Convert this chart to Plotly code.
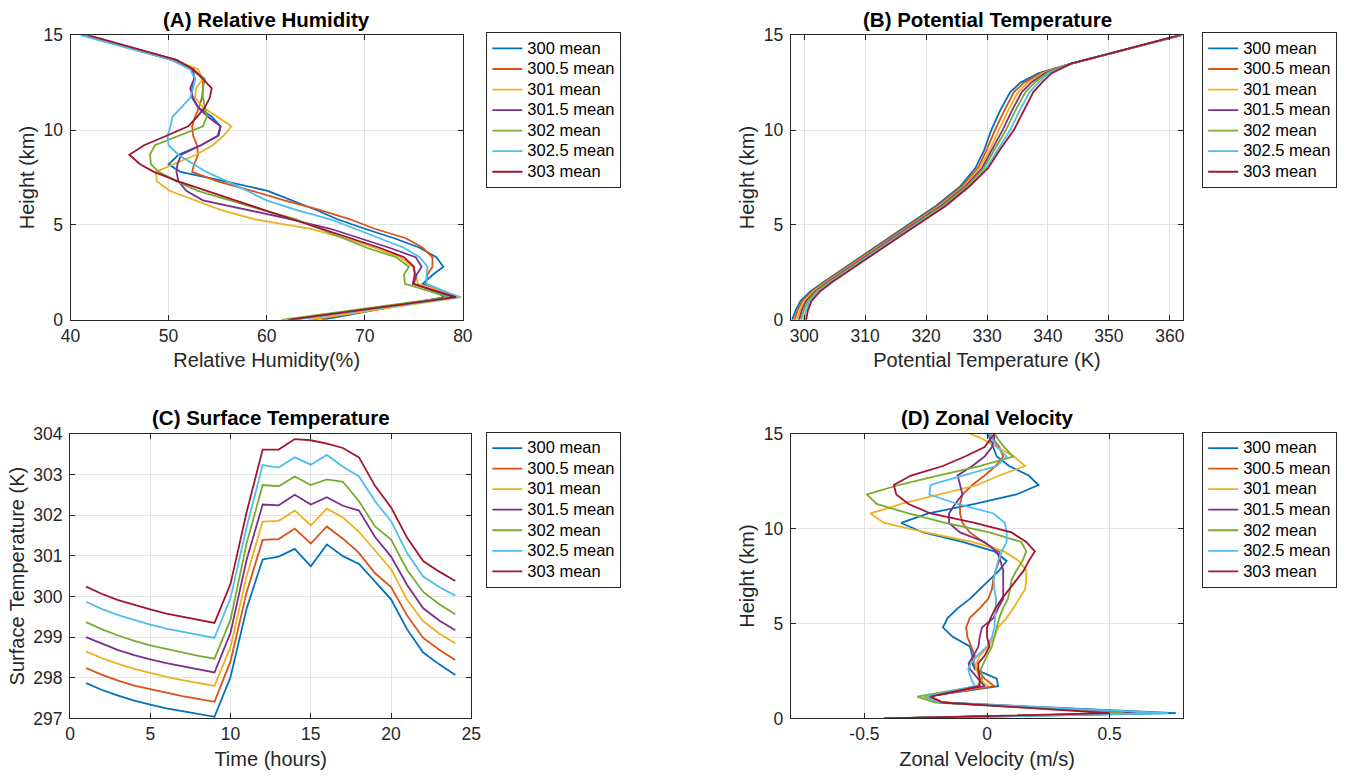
import plotly.graph_objects as go

# ---------------- data ----------------
series_names = ["300 mean", "300.5 mean", "301 mean", "301.5 mean", "302 mean", "302.5 mean", "303 mean"]
colors = ["#0072BD", "#D95319", "#EDB120", "#7E2F8E", "#77AC30", "#4DBEEE", "#A2142F"]

# (A) Relative humidity (%) vs height (km)
height_A = [0, 1.2, 1.9, 2.4, 2.8, 3.3, 3.8, 4.3, 4.8, 5.3, 5.8, 6.3, 6.8, 7.3, 7.8, 8.2, 8.7,
            9.2, 9.7, 10.2, 10.7, 11.2, 11.7, 12.2, 12.7, 13.2, 13.7, 15.0]
rh_300 = [65.6, 78.1, 75.9, 77.0, 78.0, 77.3, 75.6, 73.0, 70.0, 67.2, 65.0, 62.5, 60.1, 55.8, 51.2, 50.0, 51.0,
          53.3, 55.1, 55.3, 54.4, 53.0, 52.4, 52.4, 52.7, 52.3, 50.5, 41.2]
rh_300_5 = [64.6, 79.0, 76.2, 76.4, 76.9, 76.9, 75.9, 74.2, 71.0, 68.5, 65.4, 61.8, 58.5, 55.0, 52.4, 52.6, 53.0,
            52.9, 52.5, 52.4, 52.7, 53.1, 53.4, 53.5, 53.5, 52.4, 50.3, 41.3]
rh_301 = [64.2, 79.8, 75.4, 75.2, 74.9, 73.6, 71.0, 68.0, 64.5, 58.8, 55.3, 52.8, 50.1, 48.8, 48.7, 50.5, 52.8,
          54.5, 55.6, 56.4, 55.0, 53.5, 52.7, 52.8, 53.5, 53.0, 50.6, 41.5]
rh_301_5 = [62.5, 78.8, 75.0, 75.3, 75.8, 75.2, 72.5, 69.5, 66.5, 62.5, 58.0, 53.5, 51.8, 51.0, 50.8, 50.9, 51.3,
            53.3, 55.0, 55.3, 54.0, 53.0, 52.5, 52.2, 52.6, 52.5, 50.4, 41.4]
rh_302 = [61.5, 78.6, 74.1, 74.0, 74.5, 73.2, 70.2, 67.8, 65.5, 63.0, 59.5, 56.2, 53.0, 50.8, 49.0, 48.2, 48.1,
          48.6, 51.0, 53.5, 53.9, 53.7, 53.5, 53.5, 53.7, 52.5, 50.8, 41.2]
rh_302_5 = [62.8, 79.6, 76.3, 76.3, 76.4, 75.6, 74.0, 71.5, 69.2, 66.5, 63.0, 60.0, 58.0, 56.0, 53.8, 52.5, 51.0,
            50.0, 49.9, 50.2, 50.4, 51.3, 52.2, 52.5, 52.7, 52.2, 50.3, 41.0]
rh_303 = [62.2, 79.3, 74.9, 75.1, 75.0, 74.0, 71.5, 68.5, 65.5, 62.6, 59.7, 56.8, 53.9, 51.0, 48.5, 47.1, 46.0,
          47.5, 49.8, 52.0, 52.9, 53.7, 54.2, 54.4, 53.5, 52.5, 50.8, 41.8]

# (B) Potential temperature (K) vs height (km)
height_B = [0, 0.5, 1, 1.5, 2, 2.5, 3, 4, 5, 6, 7, 8, 9, 10, 11, 12, 12.5, 13, 13.5, 14, 14.5, 15]
th_300 = [298.0, 298.6, 299.4, 301.0, 303.2, 305.5, 307.7, 312.4, 317.0, 321.6, 325.5, 328.1, 329.6, 330.7,
          332.1, 333.8, 335.5, 338.5, 343.8, 350.0, 356.0, 362.0]
th_300_5 = [298.4, 298.9, 299.7, 301.3, 303.4, 305.7, 307.9, 312.7, 317.3, 321.9, 325.8, 328.5, 330.0, 331.3,
            332.8, 334.4, 336.1, 338.9, 343.8, 350.0, 356.0, 361.9]
th_301 = [298.8, 299.3, 300.0, 301.5, 303.7, 306.0, 308.2, 312.9, 317.5, 322.2, 326.1, 328.8, 330.5, 331.9,
          333.4, 335.1, 336.7, 339.2, 343.8, 349.9, 355.9, 361.9]
th_301_5 = [299.15, 299.6, 300.3, 301.8, 303.9, 306.2, 308.4, 313.15, 317.75, 322.45, 326.35, 329.2, 330.9,
            332.55, 334.05, 335.7, 337.25, 339.55, 343.8, 349.9, 355.9, 361.8]
th_302 = [299.5, 299.9, 300.6, 302.0, 304.1, 306.4, 308.6, 313.4, 318.0, 322.7, 326.6, 329.5, 331.3, 333.1,
          334.6, 336.3, 337.8, 339.9, 343.8, 349.9, 355.9, 361.7]
th_302_5 = [299.9, 300.3, 300.9, 302.3, 304.4, 306.7, 308.9, 313.6, 318.2, 323.0, 326.9, 329.9, 331.8, 333.8,
            335.3, 337.0, 338.4, 340.2, 343.8, 349.8, 355.8, 361.7]
th_303 = [300.3, 300.6, 301.2, 302.6, 304.6, 306.9, 309.1, 313.9, 318.5, 323.2, 327.0, 330.2, 332.2, 334.4,
          336.0, 337.6, 339.0, 340.6, 343.8, 349.8, 355.8, 361.6]

# (C) Surface temperature (K) vs time (hours)
time_h = list(range(1, 25))
ts_300 = [297.87, 297.70, 297.56, 297.44, 297.34, 297.25, 297.18, 297.11, 297.04, 298.02, 299.70, 300.91,
          300.98, 301.17, 300.74, 301.28, 300.99, 300.80, 300.37, 299.93, 299.19, 298.62, 298.33, 298.07]
ts_300_5 = [298.24, 298.07, 297.93, 297.81, 297.72, 297.63, 297.55, 297.48, 297.41, 298.41, 300.10, 301.39,
            301.41, 301.67, 301.30, 301.72, 301.42, 301.07, 300.57, 300.23, 299.53, 298.98, 298.69, 298.44]
ts_301 = [298.65, 298.48, 298.34, 298.22, 298.12, 298.02, 297.94, 297.87, 297.80, 298.76, 300.50, 301.84,
          301.86, 302.11, 301.75, 302.16, 301.94, 301.59, 301.12, 300.67, 299.92, 299.39, 299.09, 298.85]
ts_301_5 = [299.00, 298.83, 298.68, 298.56, 298.45, 298.36, 298.28, 298.20, 298.13, 299.11, 300.90, 302.26,
            302.24, 302.50, 302.26, 302.44, 302.23, 302.11, 301.46, 300.98, 300.28, 299.71, 299.41, 299.17]
ts_302 = [299.37, 299.19, 299.04, 298.91, 298.80, 298.71, 298.62, 298.54, 298.47, 299.43, 301.30, 302.74,
          302.71, 302.95, 302.74, 302.88, 302.82, 302.34, 301.72, 301.40, 300.65, 300.11, 299.81, 299.56]
ts_302_5 = [299.87, 299.69, 299.54, 299.42, 299.31, 299.21, 299.13, 299.05, 298.98, 299.96, 301.70, 303.23,
            303.17, 303.42, 303.24, 303.48, 303.19, 302.95, 302.34, 301.85, 301.06, 300.49, 300.23, 300.02]
ts_303 = [300.24, 300.06, 299.91, 299.79, 299.68, 299.58, 299.50, 299.42, 299.35, 300.31, 302.07, 303.61,
          303.61, 303.87, 303.84, 303.76, 303.65, 303.42, 302.72, 302.19, 301.44, 300.87, 300.61, 300.38]

# (D) Zonal velocity (m/s) vs height (km)
height_D = [0.0, 0.28, 0.84, 1.15, 1.7, 2.1, 2.6, 2.9, 3.3, 3.8, 4.3, 4.8, 5.3, 5.8, 6.3, 6.8, 7.3, 7.8,
            8.3, 8.8, 9.3, 9.8, 10.3, 10.8, 11.3, 11.8, 12.3, 12.8, 13.3, 13.8, 14.3, 14.8, 15.0]
u_300 = [-0.42, 0.77, -0.19, -0.25, 0.045, 0.04, -0.05, -0.06, -0.06, -0.07, -0.14, -0.18, -0.16, -0.12,
         -0.07, -0.03, 0.01, 0.05, 0.08, 0.03, -0.10, -0.26, -0.35, -0.24, -0.05, 0.12, 0.21, 0.17, 0.09,
         0.04, 0.025, 0.01, 0.0]
u_300_5 = [-0.41, 0.635, -0.18, -0.245, 0.03, -0.01, -0.04, -0.055, -0.05, -0.065, -0.08, -0.085, -0.07,
           -0.03, 0.005, 0.02, 0.025, 0.035, 0.05, 0.05, -0.015, -0.07, -0.10, -0.11, -0.11, -0.10, -0.06,
           -0.01, 0.035, 0.066, 0.05, 0.02, 0.01]
u_301 = [-0.41, 0.645, -0.19, -0.26, 0.0, -0.028, -0.045, -0.045, -0.03, 0.005, 0.03, 0.045, 0.08, 0.107,
         0.13, 0.155, 0.16, 0.16, 0.13, 0.07, -0.06, -0.25, -0.42, -0.475, -0.35, -0.19, -0.04, 0.05, 0.155,
         0.11, 0.04, -0.03, -0.07]
u_301_5 = [-0.41, 0.61, -0.19, -0.25, -0.01, -0.035, -0.07, -0.075, -0.055, -0.035, -0.03, -0.02, 0.027,
           0.045, 0.066, 0.066, 0.066, 0.066, 0.055, 0.04, -0.01, -0.11, -0.155, -0.155, -0.13, -0.10, -0.11,
           -0.12, -0.06, -0.01, 0.02, 0.03, 0.03]
u_302 = [-0.41, 0.56, -0.21, -0.285, -0.04, -0.02, -0.025, -0.015, 0.0, 0.02, 0.03, 0.04, 0.05, 0.065,
         0.085, 0.094, 0.10, 0.12, 0.145, 0.16, 0.14, 0.01, -0.17, -0.32, -0.45, -0.49, -0.36, -0.20, -0.03,
         0.107, 0.07, 0.04, 0.033]
u_302_5 = [-0.41, 0.74, -0.19, -0.25, -0.05, -0.065, -0.077, -0.065, -0.04, 0.0, 0.02, 0.03, 0.033, 0.035,
           0.037, 0.03, 0.027, 0.035, 0.045, 0.06, 0.08, 0.08, 0.073, 0.027, -0.12, -0.235, -0.23, -0.10,
           0.04, 0.08, 0.04, 0.02, 0.015]
u_303 = [-0.42, 0.50, -0.18, -0.23, -0.03, -0.03, -0.035, -0.036, -0.01, 0.01, 0.0, 0.0, 0.015, 0.034,
         0.06, 0.09, 0.12, 0.15, 0.17, 0.195, 0.16, 0.10, -0.05, -0.23, -0.32, -0.37, -0.38, -0.31, -0.18,
         -0.09, -0.01, 0.02, 0.03]

rh_all = [rh_300, rh_300_5, rh_301, rh_301_5, rh_302, rh_302_5, rh_303]
th_all = [th_300, th_300_5, th_301, th_301_5, th_302, th_302_5, th_303]
ts_all = [ts_300, ts_300_5, ts_301, ts_301_5, ts_302, ts_302_5, ts_303]
u_all = [u_300, u_300_5, u_301, u_301_5, u_302, u_302_5, u_303]

# ---------------- figure ----------------
# page layout: the body keeps an 8 px margin and the captured page region is
# slightly larger than the window, so positions are set in that page space
OFF = 8
SX, SY = 0.987, 0.976
W, H = 1370, 800
FONT = "Liberation Sans, Arial, Helvetica, sans-serif"
AX = "#262626"
GRID = "#e3e3e3"
TICK_SIZE = 17.5
LABEL_SIZE = 20
TITLE_SIZE = 20.5
LEG_SIZE = 16.5

fig = go.Figure()

panels = [
    ("x", "y", "legend", rh_all, height_A, "profile"),
    ("x2", "y2", "legend2", th_all, height_B, "profile"),
    ("x3", "y3", "legend3", ts_all, time_h, "series"),
    ("x4", "y4", "legend4", u_all, height_D, "profile"),
]
for xa, ya, lg, data, coord, kind in panels:
    for name, col, vals in zip(series_names, colors, data):
        if kind == "profile":
            xs, ys = vals, coord
        else:
            xs, ys = coord, vals
        fig.add_trace(go.Scatter(x=xs, y=ys, mode="lines",
                                 name=f'<span style="font-size:{LEG_SIZE}px">{name}</span>',
                                 line=dict(color=col, width=1.8),
                                 xaxis=xa, yaxis=ya, legend=lg))

def px_x(p):
    return (p / SX - OFF) / W

def px_y(p):
    return 1 - (p / SY - OFF) / H

def axis(domain, rng, tickvals, title, anchor, standoff, lab_off, ticktext=None):
    d = dict(domain=domain, range=rng, tickvals=tickvals, anchor=anchor,
             showline=True, linecolor=AX, linewidth=1, mirror="ticks",
             ticks="inside", ticklen=5, tickcolor=AX, tickwidth=1,
             ticklabelstandoff=lab_off,
             showgrid=True, gridcolor=GRID, gridwidth=1, zeroline=False,
             tickfont=dict(family=FONT, size=TICK_SIZE, color=AX),
             title=dict(text=title, font=dict(family=FONT, size=LABEL_SIZE, color=AX), standoff=standoff))
    if ticktext is not None:
        d["ticktext"] = ticktext
    return d

top_y = [px_y(318), px_y(33)]
bot_y = [px_y(717), px_y(432)]
A_x = [px_x(68.5), px_x(461.5)]
B_x = [px_x(790), px_x(1183)]
C_x = [px_x(68), px_x(470)]
D_x = B_x

XS, YS = 8, 3
XL, YL = 0, 3
fig.update_layout(
    width=W, height=H,
    margin=dict(l=0, r=0, t=0, b=0),
    paper_bgcolor="white", plot_bgcolor="white",
    font=dict(family=FONT, color=AX),
    xaxis=axis(A_x, [40, 80], [40, 50, 60, 70, 80], "Relative Humidity(%)", "y", XS, XL),
    yaxis=axis(top_y, [0, 15], [0, 5, 10, 15], "Height (km)", "x", YS, YL),
    xaxis2=axis(B_x, [297.8, 362.2], [300, 310, 320, 330, 340, 350, 360], "Potential Temperature (K)", "y2", XS, XL),
    yaxis2=axis(top_y, [0, 15], [0, 5, 10, 15], "Height (km)", "x2", YS, YL),
    xaxis3=axis(C_x, [0, 25], [0, 5, 10, 15, 20, 25], "Time (hours)", "y3", XS, XL),
    yaxis3=axis(bot_y, [297, 304], [297, 298, 299, 300, 301, 302, 303, 304], "Surface Temperature (K)", "x3", YS, YL),
    xaxis4=axis(D_x, [-0.8, 0.8], [-0.5, 0, 0.5], "Zonal Velocity (m/s)", "y4", XS, XL,
                ticktext=["-0.5", "0", "0.5"]),
    yaxis4=axis(bot_y, [0, 15], [0, 5, 10, 15], "Height (km)", "x4", YS, YL),
)

def legend_cfg(xp, yp):
    return dict(x=px_x(xp), y=px_y(yp), xanchor="left", yanchor="top",
                bordercolor=AX, borderwidth=1, bgcolor="white",
                font=dict(family=FONT, size=13.5, color="black"),
                itemwidth=30, tracegroupgap=0)

fig.update_layout(
    legend=legend_cfg(485, 30),
    legend2=legend_cfg(1202, 30),
    legend3=legend_cfg(485, 430),
    legend4=legend_cfg(1202, 430),
)

titles = [("(A) Relative Humidity", (68.5 + 461.5) / 2, 17),
          ("(B) Potential Temperature", (790 + 1183) / 2, 17),
          ("(C) Surface Temperature", (68 + 470) / 2, 416),
          ("(D) Zonal Velocity", (790 + 1183) / 2, 416)]
for text, cx, cy in titles:
    fig.add_annotation(text="<b>" + text + "</b>", x=px_x(cx), y=px_y(cy), xref="paper", yref="paper",
                       xanchor="center", yanchor="middle", showarrow=False,
                       font=dict(family=FONT, size=TITLE_SIZE, color="black"))

fig.write_html("out.html")
